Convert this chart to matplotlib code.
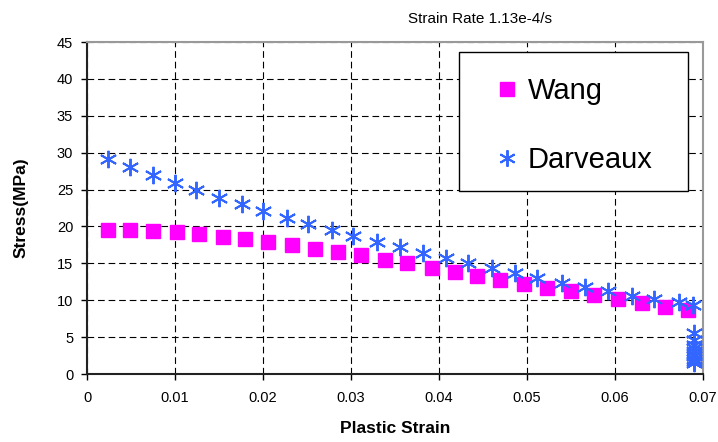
import matplotlib
matplotlib.use("Agg")
import matplotlib.pyplot as plt
from matplotlib.patches import Rectangle
import numpy as np

plt.rcParams['font.family'] = ['Liberation Sans', 'DejaVu Sans']

# Wang model (squares)
wang_strain = [0.0024, 0.0049, 0.0075, 0.0102, 0.0127, 0.0155, 0.0180, 0.0206,
               0.0233, 0.0259, 0.0285, 0.0311, 0.0339, 0.0364, 0.0392, 0.0418,
               0.0443, 0.0469, 0.0497, 0.0523, 0.0550, 0.0576, 0.0603, 0.0631,
               0.0657, 0.0683]
wang_stress = [19.5, 19.5, 19.4, 19.2, 19.0, 18.6, 18.3, 17.9, 17.5, 17.0,
               16.6, 16.1, 15.5, 15.0, 14.4, 13.8, 13.3, 12.7, 12.2, 11.7,
               11.2, 10.7, 10.2, 9.6, 9.1, 8.7]

# Darveaux model (asterisks), incl. the unloading cluster at the end
darv_strain = [0.0024, 0.0049, 0.0075, 0.0100, 0.0124, 0.0150, 0.0176, 0.0200,
               0.0227, 0.0251, 0.0278, 0.0302, 0.0330, 0.0356, 0.0382, 0.0408,
               0.0433, 0.0460, 0.0486, 0.0511, 0.0540, 0.0566, 0.0592, 0.0619,
               0.0644, 0.0673, 0.0689,
               0.0690, 0.0690, 0.0690, 0.0690, 0.0690, 0.0690, 0.0690, 0.0690,
               0.0690, 0.0690]
darv_stress = [29.1, 28.0, 27.0, 25.9, 24.9, 23.9, 23.0, 22.1, 21.2, 20.3,
               19.5, 18.7, 17.9, 17.2, 16.4, 15.7, 15.0, 14.4, 13.7, 13.0,
               12.3, 11.8, 11.3, 10.6, 10.2, 9.8, 9.4,
               5.6, 4.6, 4.0, 3.5, 3.1, 2.7, 2.4, 2.1, 1.8, 1.5]

x_ticks = [0, 0.01, 0.02, 0.03, 0.04, 0.05, 0.06, 0.07]
x_labels = ['0', '0.01', '0.02', '0.03', '0.04', '0.05', '0.06', '0.07']
y_ticks = [0, 5, 10, 15, 20, 25, 30, 35, 40, 45]

fig = plt.figure(figsize=(7.18, 4.42), dpi=100)
ax = fig.add_axes([0.1212, 0.1538, 0.858, 0.751])

ax.plot(wang_strain, wang_stress, linestyle='none', marker='s', markersize=10.5,
        color='#ff00ff', markeredgecolor='#ff00ff', label='Wang', zorder=3)
ax.plot(darv_strain, darv_stress, linestyle='none', marker=(6, 2, 0), markersize=12.5,
        markeredgewidth=1.4, color='#3366ff', label='Darveaux', zorder=3)

ax.set_xlim(0, 0.07)
ax.set_ylim(0, 45)
ax.set_xticks(x_ticks)
ax.set_xticklabels(x_labels)
ax.set_yticks(y_ticks)
ax.tick_params(labelsize=10.5, length=4, width=1, color='black', pad=6)
ax.tick_params(axis='x', pad=8)

ax.grid(True, color='black', linestyle=(0, (6, 3.5)), linewidth=0.8)
ax.set_axisbelow(True)

for side in ['top', 'right']:
    ax.spines[side].set_color('#999999')
    ax.spines[side].set_linewidth(1.5)
for side in ['left', 'bottom']:
    ax.spines[side].set_color('#222222')
    ax.spines[side].set_linewidth(1.5)

ax.set_xlabel('Plastic Strain', fontsize=12.5, fontweight='bold', labelpad=12)
ax.set_ylabel('Stress(MPa)', fontsize=12.5, fontweight='bold', labelpad=20)

fig.text(0.669, 0.958, 'Strain Rate 1.13e-4/s', fontsize=11, ha='center', va='center')

# legend box
ax.add_patch(Rectangle((0.604, 0.551), 0.372, 0.419, transform=ax.transAxes,
                       facecolor='white', edgecolor='black', linewidth=1,
                       zorder=4, clip_on=False))
leg = ax.legend(loc='upper left', bbox_to_anchor=(0.658, 0.895), frameon=False,
                fontsize=21, handlelength=1.0, handletextpad=0.2,
                labelspacing=1.4, borderpad=0, borderaxespad=0, markerscale=0.95)
leg.set_zorder(5)

fig.savefig('out.png', dpi=100)
